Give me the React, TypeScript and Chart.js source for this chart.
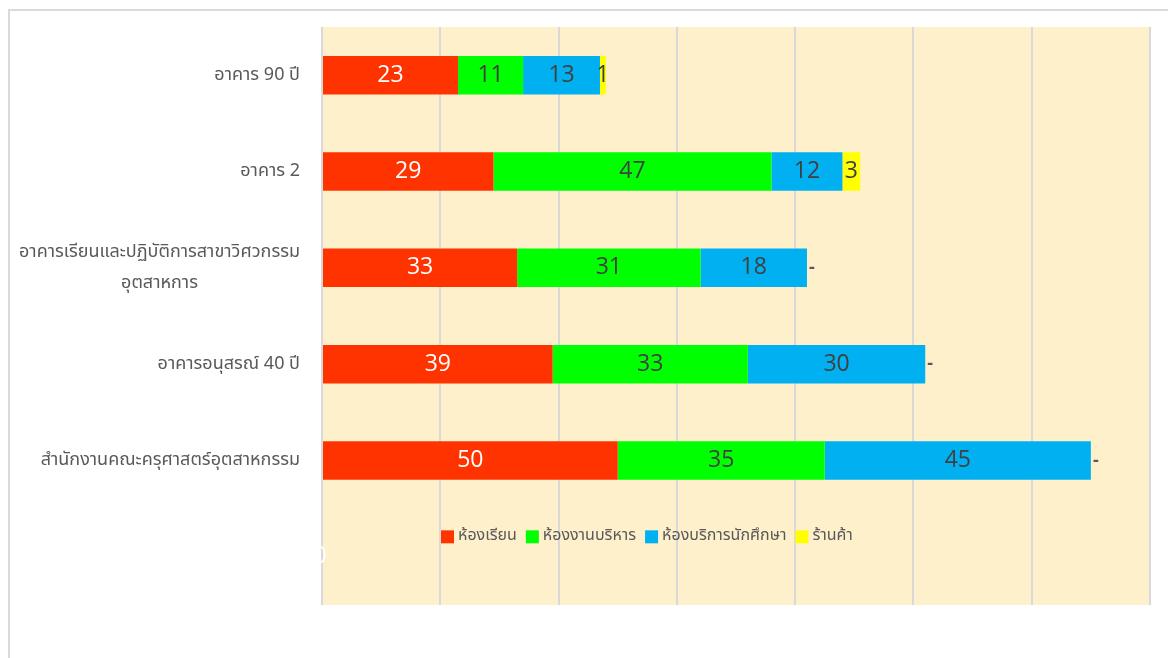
import React, { useEffect, useRef } from "react";
import { Chart, registerables } from "chart.js";

Chart.register(...registerables);

// ---- data ----
const categoryLines: string[][] = [
  ["อาคาร 90 ปี"],
  ["อาคาร 2"],
  ["อาคารเรียนและปฏิบัติการสาขาวิศวกรรม", "อุตสาหการ"],
  ["อาคารอนุสรณ์ 40 ปี"],
  ["สำนักงานคณะครุศาสตร์อุตสาหกรรม"],
  [""],
];
const seriesNames = ["ห้องเรียน", "ห้องงานบริหาร", "ห้องบริการนักศึกษา", "ร้านค้า"];
const classroom = [23, 29, 33, 39, 50, 0];
const adminRoom = [11, 47, 31, 33, 35, null];
const studentService = [13, 12, 18, 30, 45, null];
const shop = [1, 3, 0, 0, 0, null];
const xMax = 140;
const xStep = 20;

// ---- styles ----
const colors = ["#FF3300", "#00FF00", "#00B0F0", "#FFFF00"];
const labelColors = ["#FFFFFF", "#404040", "#404040", "#404040"];
const thaiFont = "'Noto Sans Thai', 'Leelawadee UI', Tahoma, 'Noto Sans', 'DejaVu Sans', sans-serif";
const numFont = "'Open Sans', 'Noto Sans', sans-serif";

const bgPlugin = {
  id: "plotBg",
  beforeDraw(chart: any) {
    const { ctx, chartArea } = chart;
    ctx.save();
    ctx.fillStyle = "#FFF0CC";
    ctx.fillRect(chartArea.left, chartArea.top, chartArea.right - chartArea.left, chartArea.bottom - chartArea.top);
    ctx.restore();
  },
};

const labelPlugin = {
  id: "valueLabels",
  afterDatasetsDraw(chart: any) {
    const { ctx } = chart;
    ctx.save();
    ctx.textBaseline = "middle";
    const n = chart.data.datasets.length;
    chart.data.datasets.forEach((ds: any, di: number) => {
      const meta = chart.getDatasetMeta(di);
      meta.data.forEach((el: any, i: number) => {
        const v = ds.data[i];
        if (v === null || v === undefined) return;
        const { x, base, y } = el.getProps(["x", "base", "y"], true);
        if (v === 0) {
          if (di === n - 1) {
            ctx.font = `bold 18px ${numFont}`;
            ctx.fillStyle = "#595959";
            ctx.textAlign = "center";
            ctx.fillText("-", x + 5, y);
          } else {
            ctx.font = `23px ${numFont}`;
            ctx.fillStyle = labelColors[di];
            ctx.textAlign = "center";
            ctx.fillText("0", x - 2, y);
          }
          return;
        }
        ctx.font = `23px ${numFont}`;
        ctx.fillStyle = labelColors[di];
        ctx.textAlign = "center";
        ctx.fillText(String(v), (x + base) / 2, y);
      });
    });
    ctx.restore();
  },
};

const categoryPlugin = {
  id: "categoryLabels",
  afterDraw(chart: any) {
    const { ctx, chartArea } = chart;
    const yScale = chart.scales.y;
    ctx.save();
    ctx.font = `18px ${thaiFont}`;
    ctx.fillStyle = "#595959";
    ctx.textBaseline = "middle";
    const right = chartArea.left - 22;
    const lineH = 31;
    categoryLines.forEach((lines, i) => {
      const cy = yScale.getPixelForValue(i);
      const maxW = Math.max(...lines.map((l) => ctx.measureText(l).width));
      const cx = right - maxW / 2;
      const startY = cy + 1 - ((lines.length - 1) * lineH) / 2;
      ctx.textAlign = "center";
      lines.forEach((l, li) => ctx.fillText(l, cx, startY + li * lineH));
    });
    ctx.restore();
  },
};

const legendPlugin = {
  id: "insideLegend",
  afterDraw(chart: any) {
    const { ctx, chartArea } = chart;
    const yScale = chart.scales.y;
    ctx.save();
    ctx.font = `16px ${thaiFont}`;
    ctx.textBaseline = "middle";
    ctx.textAlign = "left";
    const box = 13;
    const gap = 4;
    const itemGap = 9;
    let x = chartArea.left + 119;
    const y = yScale.getPixelForValue(categoryLines.length - 1) - 20;
    seriesNames.forEach((name, i) => {
      ctx.fillStyle = colors[i];
      ctx.fillRect(x, y - box / 2, box, box);
      x += box + gap;
      ctx.fillStyle = "#595959";
      ctx.fillText(name, x, y);
      x += ctx.measureText(name).width + itemGap;
    });
    ctx.restore();
  },
};

export default function App() {
  const canvasRef = useRef<HTMLCanvasElement | null>(null);

  useEffect(() => {
    if (!canvasRef.current) return;
    const seriesData = [classroom, adminRoom, studentService, shop];
    const chart = new Chart(canvasRef.current, {
      type: "bar",
      data: {
        labels: categoryLines.map((l) => l.join(" ")),
        datasets: seriesNames.map((name, i) => ({
          label: name,
          data: seriesData[i] as any,
          backgroundColor: colors[i],
          borderWidth: 0,
          categoryPercentage: 1,
          barPercentage: 0.4,
        })),
      },
      options: {
        indexAxis: "y",
        responsive: false,
        animation: false,
        layout: { padding: { top: 16, right: 18, bottom: 53, left: 0 } },
        plugins: { legend: { display: false }, tooltip: { enabled: false } },
        scales: {
          x: {
            stacked: true,
            min: 0,
            max: xMax,
            ticks: { display: false, stepSize: xStep },
            grid: { color: "#D9D9D9", lineWidth: 2, drawTicks: false },
            border: { display: false },
            afterFit: (s: any) => {
              s.height = 0;
            },
          },
          y: {
            stacked: true,
            ticks: { display: false },
            grid: { display: false, drawTicks: false },
            border: { display: false },
            afterFit: (s: any) => {
              s.width = 312;
            },
          },
        },
      } as any,
      plugins: [bgPlugin, labelPlugin, categoryPlugin, legendPlugin],
    });
    return () => chart.destroy();
  }, []);

  return (
    <div style={{ position: "fixed", inset: 0, overflow: "hidden", background: "#fff" }}>
      <div
        style={{
          position: "absolute",
          left: 8,
          top: 9,
          width: 1200,
          height: 700,
          border: "2px solid #D9D9D9",
          background: "#fff",
        }}
      >
        <canvas ref={canvasRef} width={1158} height={647} style={{ display: "block" }} />
      </div>
    </div>
  );
}
